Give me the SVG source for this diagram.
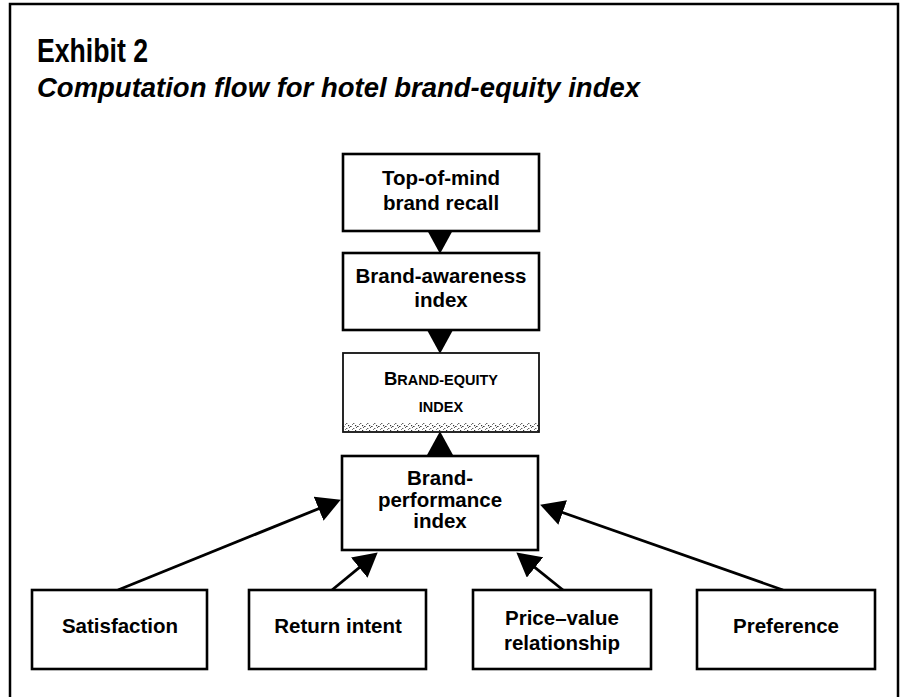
<svg xmlns="http://www.w3.org/2000/svg" width="901" height="697" viewBox="0 0 901 697">
<style>
.box{fill:#fff;stroke:#000;stroke-width:2.6}
.box3{fill:#fff;stroke:#111;stroke-width:1.8}
.lbl{font-family:"Liberation Sans",Arial,sans-serif;font-weight:bold;font-size:20.5px;fill:#000;text-anchor:middle}
.sc{font-family:"Liberation Sans",Arial,sans-serif;font-weight:bold;fill:#000;text-anchor:middle}
.conn{stroke:#000;stroke-width:2.8;fill:none}
.title{font-family:"Liberation Sans",Arial,sans-serif;font-weight:bold;fill:#000}
</style>
<defs>
<marker id="ah" markerUnits="userSpaceOnUse" markerWidth="24" markerHeight="26" viewBox="0 0 22 24" refX="12" refY="12" orient="auto">
<path d="M0,0 L22,12 L0,24 Z" fill="#000"/>
</marker>
<pattern id="speck" width="7" height="5" patternUnits="userSpaceOnUse">
<rect x="0" y="1" width="1.6" height="1" fill="#444"/>
<rect x="3" y="3" width="1.4" height="1" fill="#666"/>
<rect x="5" y="0" width="1.2" height="1.2" fill="#333"/>
<rect x="2" y="4" width="1" height="1" fill="#777"/>
<rect x="6" y="2" width="1" height="1" fill="#555"/>
</pattern>
</defs>
<rect width="901" height="697" fill="#fff"/>
<path d="M10,697 V4 H898 V697" fill="none" stroke="#000" stroke-width="2.5"/>
<g id="title">
<text class="title" x="37" y="62" font-size="34" textLength="111" lengthAdjust="spacingAndGlyphs">Exhibit 2</text>
<text class="title" x="37" y="97" font-size="28" font-style="italic" textLength="603" lengthAdjust="spacingAndGlyphs">Computation flow for hotel brand-equity index</text>
</g>
<g id="connectors">
<line class="conn" x1="440" y1="231" x2="440" y2="243" marker-end="url(#ah)"/>
<line class="conn" x1="440" y1="331" x2="440" y2="343" marker-end="url(#ah)"/>
<line class="conn" x1="440" y1="456" x2="440" y2="442" marker-end="url(#ah)"/>
<line class="conn" x1="118" y1="590" x2="330.7" y2="503.8" marker-end="url(#ah)"/>
<line class="conn" x1="332" y1="590" x2="369.3" y2="559.4" marker-end="url(#ah)"/>
<line class="conn" x1="563" y1="590" x2="524.8" y2="559.3" marker-end="url(#ah)"/>
<line class="conn" x1="783" y1="590" x2="550.4" y2="508.3" marker-end="url(#ah)"/>
</g>
<g id="top-of-mind">
<rect class="box" x="343" y="154" width="196" height="77"/>
<text class="lbl" x="441" y="185">Top-of-mind</text>
<text class="lbl" x="441" y="210">brand recall</text>
</g>
<g id="brand-awareness">
<rect class="box" x="343" y="253" width="196" height="77"/>
<text class="lbl" x="441" y="283">Brand-awareness</text>
<text class="lbl" x="441" y="307">index</text>
</g>
<g id="brand-equity">
<rect class="box3" x="343" y="353" width="196" height="79"/>
<rect x="344" y="423" width="194" height="8" fill="url(#speck)"/>
<text class="sc" x="441" y="385"><tspan font-size="18.5">B</tspan><tspan font-size="14.5">RAND-EQUITY</tspan></text>
<text class="sc" x="441" y="412" font-size="14.5">INDEX</text>
</g>
<g id="brand-performance">
<rect class="box" x="342" y="456" width="196" height="94"/>
<text class="lbl" x="440" y="485">Brand-</text>
<text class="lbl" x="440" y="507">performance</text>
<text class="lbl" x="440" y="528">index</text>
</g>
<g id="satisfaction">
<rect class="box" x="32" y="590" width="175" height="79"/>
<text class="lbl" x="120" y="633">Satisfaction</text>
</g>
<g id="return-intent">
<rect class="box" x="249" y="590" width="177" height="79"/>
<text class="lbl" x="338" y="633">Return intent</text>
</g>
<g id="price-value">
<rect class="box" x="473" y="590" width="178" height="79"/>
<text class="lbl" x="562" y="625">Price–value</text>
<text class="lbl" x="562" y="650">relationship</text>
</g>
<g id="preference">
<rect class="box" x="697" y="590" width="178" height="79"/>
<text class="lbl" x="786" y="633">Preference</text>
</g>
</svg>
